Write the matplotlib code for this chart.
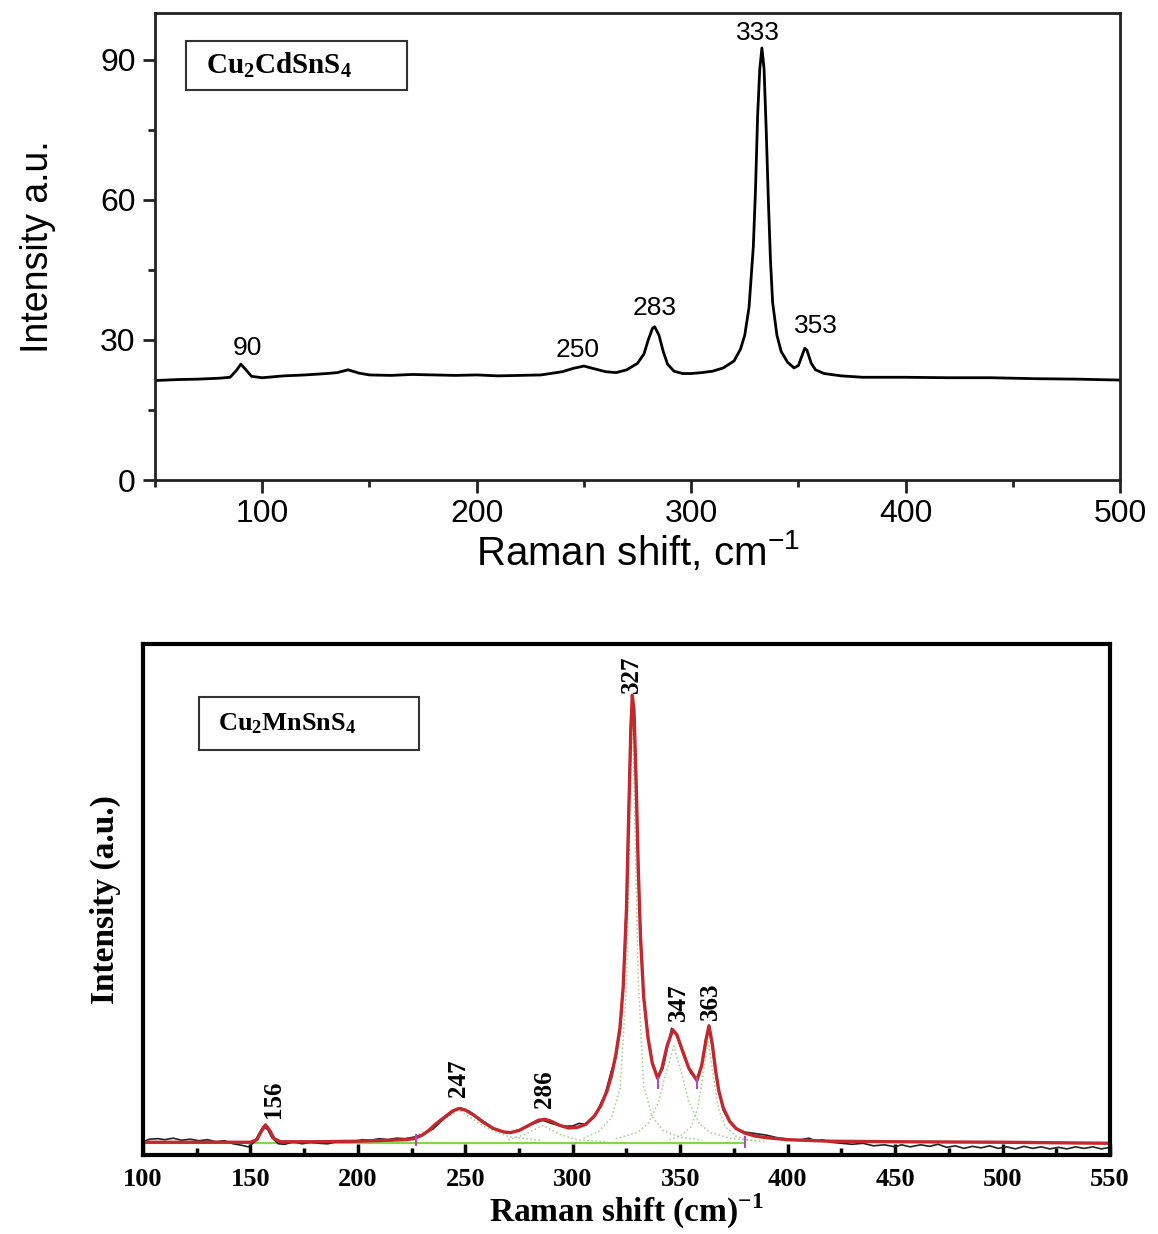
#!/usr/bin/env python
# coding: utf-8
"""
Raman spectra of Cu2CdSnS4 (top) and Cu2MnSnS4 (bottom)
"""

import matplotlib
matplotlib.use("Agg")
import matplotlib.pyplot as plt
from matplotlib.patches import Rectangle
from matplotlib.ticker import MultipleLocator

plt.rcParams['mathtext.fontset'] = 'custom'
plt.rcParams['mathtext.rm'] = 'Liberation Serif'
plt.rcParams['mathtext.bf'] = 'Liberation Serif:bold'
plt.rcParams['mathtext.sf'] = 'Liberation Sans'

SANS = ['Liberation Sans', 'DejaVu Sans']
SERIF = ['Liberation Serif', 'DejaVu Serif']

# ---- Cu2CdSnS4 spectrum ----
cd_shift = [50, 60, 70, 80, 85, 88, 90, 92, 95, 100, 110, 120, 130, 135, 140,
            145, 150, 160, 170, 180, 190, 200, 210, 220, 230, 240, 245, 250,
            255, 260, 265, 270, 275, 278, 280, 282, 283, 285, 287, 289, 292,
            296, 300, 305, 310, 315, 320, 323, 325, 327, 329, 330, 331, 332,
            333, 334, 335, 336, 337, 338, 340, 342, 345, 348, 350, 352, 353,
            354, 356, 358, 362, 370, 380, 400, 420, 440, 460, 480, 500]
cd_int = [21.3, 21.5, 21.6, 21.8, 22.0, 23.5, 24.8, 23.8, 22.2, 21.9, 22.3,
          22.5, 22.8, 23.0, 23.6, 22.9, 22.5, 22.4, 22.6, 22.5, 22.4, 22.5,
          22.3, 22.4, 22.5, 23.2, 23.9, 24.4, 23.8, 23.2, 23.0, 23.6, 25.0,
          27.0, 30.0, 32.5, 32.8, 31.0, 27.5, 24.8, 23.3, 22.8, 22.8, 23.0,
          23.3, 24.0, 25.5, 28.0, 31.0, 37.0, 50.0, 62.0, 78.0, 88.0, 92.5,
          88.0, 75.0, 60.0, 47.0, 38.0, 31.0, 27.5, 25.2, 24.0, 24.5, 27.0,
          28.2, 27.8, 25.0, 23.6, 22.8, 22.3, 22.0, 22.0, 21.9, 21.9, 21.7,
          21.6, 21.4]
cd_peaks = ['90', '250', '283', '333', '353']
cd_peak_x = [93, 247, 283, 331, 358]
cd_peak_y = [28.3, 27.9, 36.9, 95.8, 33.0]

# ---- Cu2MnSnS4 spectrum ----
mn_shift = [100, 103, 107, 110, 114, 118, 122, 126, 130, 134, 138, 142, 146,
            149, 152, 154, 156, 158, 160, 163, 166, 170, 174, 178, 182, 186,
            190, 194, 198, 202, 206, 210, 214, 218, 222, 226, 230, 235, 240,
            245, 248, 252, 258, 264, 270, 275, 280, 286, 290, 295, 300, 303,
            306, 310, 315, 318, 320, 322, 323.5, 325, 326, 327, 327.7, 328.5,
            329.5, 330.5, 331.5, 333, 335, 337, 339.5, 342, 344, 346, 347.5,
            349, 352, 355, 357.8, 360, 362, 363.4, 365, 367, 370, 373, 376,
            380, 385, 390, 395, 400, 405, 410, 413, 416, 420, 425, 430, 435,
            440, 445, 450, 453, 457, 462, 466, 470, 474, 478, 482, 486, 490,
            494, 498, 502, 506, 510, 514, 518, 522, 526, 530, 534, 538, 542,
            546, 550]
mn_int = [2.6, 3.1, 3.2, 3.0, 3.3, 2.9, 3.1, 2.8, 3.0, 2.6, 2.8, 2.2, 1.9,
          1.6, 2.6, 4.2, 5.6, 5.0, 3.4, 2.2, 2.1, 2.6, 2.2, 2.5, 2.3, 2.2,
          2.6, 2.8, 2.6, 3.0, 2.9, 3.2, 3.0, 3.3, 3.2, 3.5, 4.0, 5.1, 7.1,
          8.7, 9.2, 8.5, 6.7, 5.0, 4.3, 4.9, 5.9, 6.8, 6.2, 5.6, 5.7, 6.2,
          6.0, 7.4, 11.8, 16.5, 19.0, 24.0, 33.0, 50.0, 68.0, 85.0, 89.0,
          86.0, 71.0, 55.0, 42.0, 31.0, 23.5, 18.3, 15.2, 17.0, 21.0, 24.8,
          24.0, 22.8, 19.0, 16.0, 14.8, 17.5, 23.0, 25.0, 21.0, 14.5, 8.8,
          6.5, 5.2, 4.5, 4.2, 3.9, 3.4, 3.1, 2.9, 3.3, 2.7, 3.0, 2.5, 2.3,
          2.1, 2.3, 1.8, 2.0, 1.6, 2.0, 1.6, 2.0, 1.7, 2.1, 1.5, 1.8, 1.3,
          1.7, 1.4, 1.8, 1.3, 1.6, 1.2, 1.7, 1.3, 1.6, 1.2, 1.5, 1.2, 1.6,
          1.3, 1.6, 1.2, 1.5]

fit_shift = [100, 150, 153, 155, 157, 159, 161, 164, 180, 200, 215, 222, 226,
             230, 233, 236, 240, 244, 247, 250, 254, 258, 263, 268, 271, 275,
             280, 284, 287, 290, 294, 298, 302, 306, 310, 313, 316, 318, 320,
             322, 323.5, 325, 326, 327, 327.7, 328.5, 329.5, 330.5, 331.5,
             333, 335, 337, 339.5, 341.5, 344, 346.6, 348.5, 351, 354, 357.8,
             360, 362, 363.4, 365, 366.5, 368, 370, 373, 376, 380, 385, 390,
             400, 420, 450, 500, 550]
fit_int = [2.5, 2.5, 3.0, 4.6, 5.9, 4.8, 3.2, 2.6, 2.6, 2.7, 2.9, 3.0, 3.2,
           3.9, 4.8, 6.0, 7.3, 8.6, 9.1, 8.8, 7.8, 6.5, 5.2, 4.5, 4.4, 4.8,
           5.9, 6.8, 7.0, 6.6, 5.8, 5.3, 5.4, 6.0, 7.6, 9.6, 12.6, 15.5, 19.5,
           25.0, 33.0, 48.0, 66.0, 83.0, 90.0, 87.0, 73.0, 56.0, 43.0, 31.0,
           23.0, 18.0, 15.0, 17.0, 21.5, 24.5, 23.5, 20.5, 17.0, 14.6, 17.5,
           22.5, 25.3, 21.5, 16.5, 12.5, 9.3, 6.6, 5.2, 4.3, 3.7, 3.4, 3.0,
           2.7, 2.6, 2.5, 2.3]

# fitted components (thin dotted green curves)
comp247_x = [225, 235, 247, 259, 270, 285]
comp247_y = [3.3, 5.5, 8.8, 5.5, 3.6, 2.9]
comp286_x = [270, 278, 286, 294, 302, 315]
comp286_y = [3.0, 4.05, 5.8, 4.05, 3.0, 2.6]
comp327_x = [305, 312, 318, 322, 325, 327.7, 330.5, 333, 337, 342, 350, 360]
comp327_y = [3.3, 4.6, 7.3, 13.0, 33.0, 88.0, 34.0, 13.5, 7.5, 4.8, 3.5, 2.9]
comp347_x = [320, 330, 335, 340, 343, 347, 351, 354, 359, 364, 374, 385]
comp347_y = [3.2, 4.4, 6.1, 10.4, 15.5, 21.3, 15.5, 10.4, 6.1, 4.4, 3.2, 2.8]
comp363_x = [345, 350, 355, 358, 360, 363, 366, 368, 371, 376, 381, 390]
comp363_y = [3.0, 3.7, 5.5, 8.9, 13.9, 22.3, 13.9, 8.9, 5.5, 3.7, 3.0, 2.6]
base_x = [100, 380]
base_y = [2.3, 2.3]
mark_x = [227, 339.5, 357.8, 380]
mark_y = [3.0, 14.0, 14.0, 2.6]

mn_peaks = ['156', '247', '286', '327', '347', '363']
mn_peak_x = [160.5, 246.6, 287, 327.5, 349, 364]
mn_peak_y = [11.0, 15.0, 12.8, 94.0, 30.0, 30.0]


def sample_box(ax, x0, y0, x1, y1, label, tx, size):
    """Boxed sample name in axes coordinates"""
    ax.add_patch(Rectangle((x0, y0), x1 - x0, y1 - y0, transform=ax.transAxes,
                           fc='white', ec='#333333', lw=1.5, zorder=5))
    ax.text(tx, (y0 + y1) / 2, label, transform=ax.transAxes, ha='left',
            va='center', fontsize=size, zorder=6)


def plot_cd(fig):
    ax = fig.add_axes([0.1339, 0.611, 0.8333, 0.3785])
    ax.plot(cd_shift, cd_int, color='black', lw=2.0)
    ax.set_xlim(50, 500)
    ax.set_ylim(0, 100)
    ax.set_xticks([100, 200, 300, 400, 500])
    ax.xaxis.set_minor_locator(MultipleLocator(50))
    ax.set_yticks([0, 30, 60, 90])
    ax.yaxis.set_minor_locator(MultipleLocator(15))
    ax.tick_params(which='both', direction='out', width=2, labelsize=23,
                   color='#222222')
    ax.tick_params(which='major', length=9, pad=5)
    ax.tick_params(which='minor', length=5)
    for lab in ax.get_xticklabels() + ax.get_yticklabels():
        lab.set_family(SANS)
    for sp in ax.spines.values():
        sp.set_linewidth(2)
        sp.set_color('#222222')

    for name, x, y in zip(cd_peaks, cd_peak_x, cd_peak_y):
        ax.text(x, y, name, ha='center', va='center', fontsize=19,
                family=SANS)

    sample_box(ax, 0.032, 0.835, 0.261, 0.940, r'$\mathbf{Cu_2CdSnS_4}$',
               0.053, 21)
    ax.set_xlabel(r'Raman shift, cm$^{\mathsf{-1}}$', fontsize=29,
                  family=SANS, labelpad=0)
    ax.set_ylabel('Intensity a.u.', fontsize=27, family=SANS, labelpad=32)


def plot_mn(fig):
    ax = fig.add_axes([0.1235, 0.0640, 0.835, 0.4141])
    comp_style = dict(color='#9fd08a', lw=1.1, ls=':')
    for cx, cy in [(comp247_x, comp247_y), (comp286_x, comp286_y),
                   (comp327_x, comp327_y), (comp347_x, comp347_y),
                   (comp363_x, comp363_y)]:
        ax.plot(cx, cy, **comp_style)
    ax.plot(base_x, base_y, color='#86d44a', lw=1.6)
    ax.plot(mn_shift, mn_int, color='#222222', lw=1.2)
    ax.plot(fit_shift, fit_int, color='#c3282e', lw=2.4)
    ax.plot(mark_x, mark_y, ls='none', marker='|', ms=9, mew=1.5,
            color='#b04ac0')

    ax.set_xlim(100, 550)
    ax.set_ylim(0, 100)
    ax.set_xticks(range(100, 551, 50))
    ax.xaxis.set_minor_locator(MultipleLocator(25))
    ax.set_yticks([])
    ax.tick_params(axis='x', which='both', direction='in', width=2.5,
                   labelsize=19, pad=9)
    ax.tick_params(axis='x', which='major', length=8)
    ax.tick_params(axis='x', which='minor', length=5)
    for lab in ax.get_xticklabels():
        lab.set_family(SERIF)
        lab.set_fontweight('bold')
    for sp in ax.spines.values():
        sp.set_linewidth(3)

    for name, x, y in zip(mn_peaks, mn_peak_x, mn_peak_y):
        ax.text(x, y, name, ha='center', va='center', rotation=90,
                fontsize=18, family=SERIF, fontweight='bold')

    sample_box(ax, 0.058, 0.793, 0.285, 0.896, r'$\mathbf{Cu_2MnSnS_4}$',
               0.078, 19)
    ax.set_xlabel(r'Raman shift (cm)$^{\mathbf{-1}}$', fontsize=24,
                  family=SERIF, fontweight='bold', labelpad=1)
    ax.set_ylabel('Intensity (a.u.)', fontsize=24, family=SERIF,
                  fontweight='bold', labelpad=16)


def main():
    fig = plt.figure(figsize=(11.58, 12.34), dpi=100)
    plot_cd(fig)
    plot_mn(fig)
    fig.savefig('out.png', dpi=100)
    plt.close(fig)


if __name__ == '__main__':
    main()
